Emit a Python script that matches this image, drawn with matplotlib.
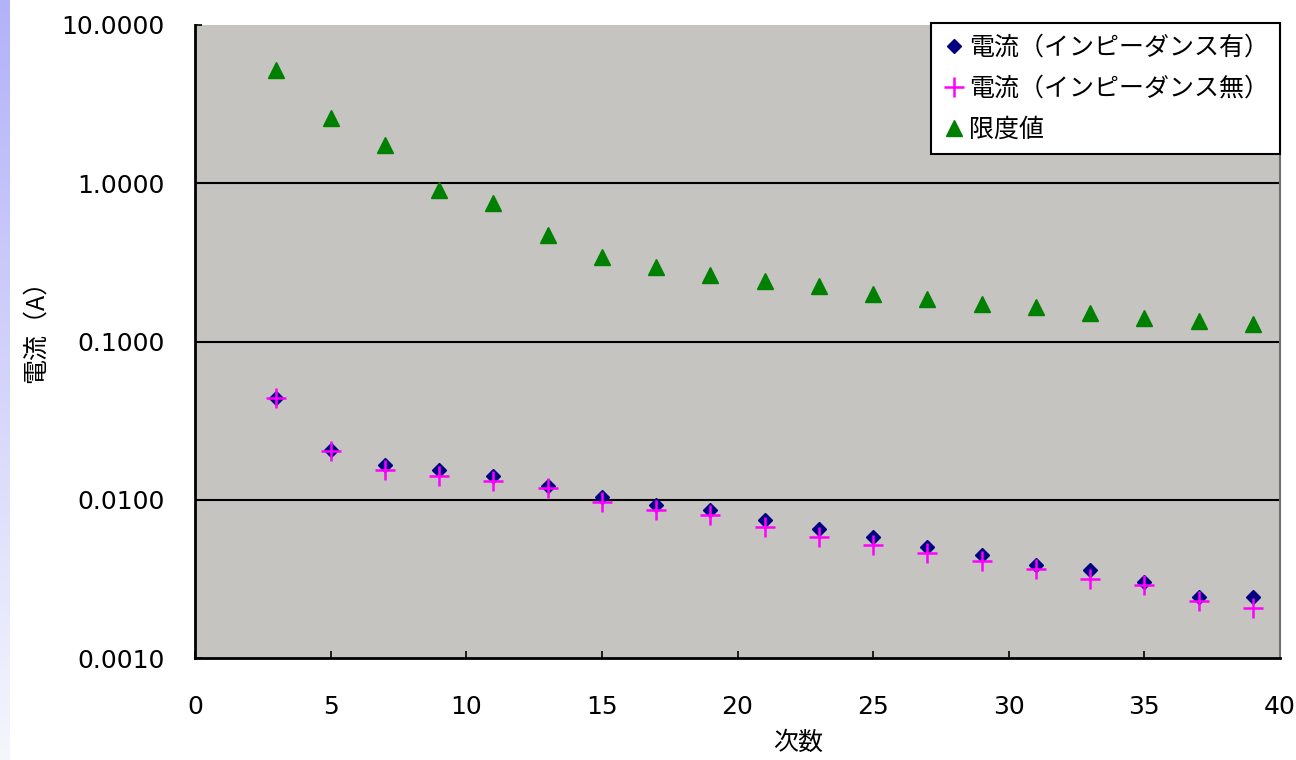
import numpy as np
import matplotlib
matplotlib.use('Agg')
import matplotlib.pyplot as plt
from matplotlib.colors import LinearSegmentedColormap
from matplotlib.ticker import FixedLocator, FuncFormatter, NullLocator

plt.rcParams['font.family'] = ['Noto Sans CJK JP', 'DejaVu Sans']

# 高調波次数
jisu = [3, 5, 7, 9, 11, 13, 15, 17, 19, 21, 23, 25, 27, 29, 31, 33, 35, 37, 39]

# 電流（インピーダンス有）
denryu_ari = [0.044, 0.0207, 0.0166, 0.0155, 0.0142, 0.01225, 0.0104, 0.0093, 0.00863,
              0.00746, 0.00655, 0.00583, 0.00505, 0.00449, 0.00388, 0.0036, 0.00303,
              0.00244, 0.00244]

# 電流（インピーダンス無）
denryu_nashi = [0.044, 0.0204, 0.01545, 0.01415, 0.01316, 0.01188, 0.0097, 0.00863, 0.00803,
                0.00675, 0.00583, 0.00519, 0.00462, 0.00411, 0.00366, 0.00316, 0.0029,
                0.0023, 0.00207]

# 限度値
gendochi = [5.2, 2.59, 1.75, 0.91, 0.75, 0.47, 0.342, 0.296, 0.264, 0.241, 0.224, 0.20,
            0.186, 0.173, 0.166, 0.152, 0.141, 0.135, 0.129]

labels = ['電流（インピーダンス有）', '電流（インピーダンス無）', '限度値']
yticks = [0.001, 0.01, 0.1, 1, 10]
xticks = [0, 5, 10, 15, 20, 25, 30, 35, 40]

fig = plt.figure(figsize=(12.96, 7.6), dpi=100)
fig.patch.set_facecolor('white')

# 左端の青いグラデーション
strip = fig.add_axes([0, 0, 10 / 1296, 1])
grad = np.linspace(0, 1, 256).reshape(-1, 1)
cm = LinearSegmentedColormap.from_list('g', ['#B2B2F8', '#F6F6FE'])
strip.imshow(grad, aspect='auto', cmap=cm)
strip.axis('off')

ax = fig.add_axes([195 / 1296, 1 - 658 / 760, 1085 / 1296, 633 / 760])
ax.set_facecolor('#C6C4C0')

ax.plot(jisu, denryu_ari, linestyle='none', marker='D', markersize=7.5,
        color='#000080', label=labels[0], zorder=3)
ax.plot(jisu, denryu_nashi, linestyle='none', marker='+', markersize=15,
        markeredgewidth=1.8, color='#FF00FF', label=labels[1], zorder=4)
ax.plot(jisu, gendochi, linestyle='none', marker='^', markersize=11.5,
        color='#008000', label=labels[2], zorder=3)

ax.set_yscale('log')
ax.set_ylim(0.001, 10)
ax.set_xlim(0, 40)
ax.yaxis.set_major_locator(FixedLocator(yticks))
ax.yaxis.set_minor_locator(NullLocator())
ax.yaxis.set_major_formatter(FuncFormatter(lambda v, p: '%.4f' % v))
ax.set_xticks(xticks)

for t in yticks[1:-1]:
    ax.axhline(t, color='black', linewidth=1.5, zorder=1)

ax.tick_params(axis='both', direction='in', length=5, width=1.2, color='black',
               labelsize=18)
ax.tick_params(axis='y', pad=22)
ax.tick_params(axis='x', pad=27)
for lab in ax.get_xticklabels() + ax.get_yticklabels():
    lab.set_family(['DejaVu Sans'])

ax.spines['left'].set_linewidth(2)
ax.spines['bottom'].set_linewidth(2)
ax.spines['right'].set_color('#707070')
ax.spines['right'].set_linewidth(1.5)
ax.spines['top'].set_visible(False)

ax.set_ylabel('電流（A）', fontsize=18)
ax.yaxis.set_label_coords(-146 / 1085, 0.525)
ax.set_xlabel('次数', fontsize=18)
ax.xaxis.set_label_coords((798 - 195) / 1085, -72 / 633)

leg = ax.legend(loc='upper right', bbox_to_anchor=(1.0, 1.003), borderaxespad=0,
                fontsize=18, frameon=True, fancybox=False, framealpha=1,
                edgecolor='black', handletextpad=0.15, handlelength=0.9,
                labelspacing=0.6, borderpad=0.45)
leg.get_frame().set_linewidth(1.5)

fig.savefig('out.png', dpi=100)
